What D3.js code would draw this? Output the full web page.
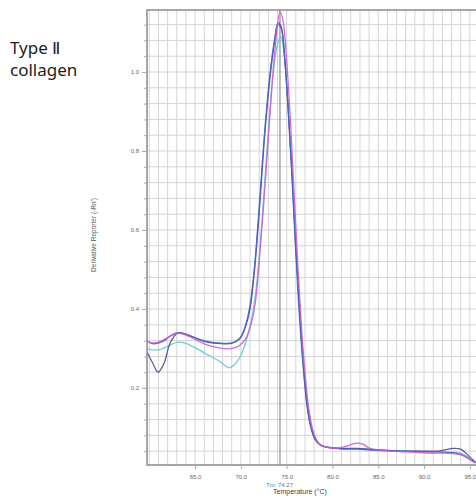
<!DOCTYPE html>
<html>
<head>
<meta charset="utf-8">
<script src="https://cdn.jsdelivr.net/npm/d3@7"></script>
<style>
  body { margin: 0; background: #fff; }
  svg { display: block; }
</style>
</head>
<body>
<script>
// melt curve, type II collagen

var width = 476;
var height = 500;

var xTicks = [65, 70, 75, 80, 85, 90, 95];
var yTicks = [0.2, 0.4, 0.6, 0.8, 1.0];
var tm = 74.27;

// [temperature, derivative]
var darkCurve = [[59.75, 0.291], [60.4, 0.262], [60.95, 0.240], [61.6, 0.262], [62.3, 0.315], [63.1, 0.339],
  [64.0, 0.336], [65.0, 0.327], [66.3, 0.316], [67.5, 0.313], [69.0, 0.313], [69.9, 0.325], [70.5, 0.355],
  [71.0, 0.40], [71.5, 0.50], [72.1, 0.676], [72.6, 0.84], [73.2, 0.99], [73.7, 1.08], [74.05, 1.125],
  [74.4, 1.115], [74.8, 1.03], [75.2, 0.89], [75.6, 0.73], [76.0, 0.55], [76.4, 0.39], [76.8, 0.26],
  [77.2, 0.16], [77.6, 0.105], [78.1, 0.07], [78.7, 0.055], [79.4, 0.050], [80.8, 0.047], [82.7, 0.047],
  [84.1, 0.045], [86.0, 0.042], [88.1, 0.040], [90.0, 0.040], [91.7, 0.041], [93.2, 0.047], [94.0, 0.045],
  [94.8, 0.030], [95.6, 0.012]];

var blueCurve = [[59.75, 0.318], [60.5, 0.312], [61.5, 0.318], [62.3, 0.332], [63.1, 0.340],
  [64.0, 0.336], [65.0, 0.327], [66.3, 0.318], [67.5, 0.314], [69.0, 0.314], [69.9, 0.327], [70.5, 0.358],
  [71.0, 0.41], [71.5, 0.51], [72.1, 0.69], [72.6, 0.85], [73.2, 1.0], [73.7, 1.085], [74.05, 1.12],
  [74.4, 1.11], [74.8, 1.03], [75.2, 0.90], [75.6, 0.74], [76.0, 0.56], [76.4, 0.40], [76.8, 0.27],
  [77.2, 0.17], [77.6, 0.11], [78.1, 0.072], [78.7, 0.056], [79.4, 0.050], [80.8, 0.046], [82.7, 0.045],
  [84.1, 0.043], [86.0, 0.041], [88.1, 0.040], [90.0, 0.039], [91.7, 0.038], [93.2, 0.036], [94.0, 0.032],
  [94.8, 0.022], [95.6, 0.010]];

var magentaCurve = [[59.75, 0.319], [60.4, 0.314], [61.2, 0.318], [62.2, 0.330], [63.1, 0.339],
  [64.0, 0.334], [65.0, 0.323], [66.3, 0.309], [67.5, 0.302], [68.7, 0.299], [69.6, 0.304], [70.2, 0.315],
  [70.7, 0.333], [71.2, 0.37], [71.6, 0.42], [72.0, 0.52], [72.6, 0.70], [73.2, 0.90], [73.7, 1.05],
  [74.27, 1.152], [74.6, 1.13], [75.0, 1.03], [75.4, 0.88], [75.8, 0.70], [76.2, 0.52], [76.6, 0.36],
  [77.0, 0.24], [77.4, 0.15], [77.9, 0.09], [78.5, 0.06], [79.3, 0.050], [80.5, 0.048], [81.5, 0.052],
  [82.5, 0.060], [83.3, 0.058], [84.1, 0.047], [85.5, 0.042], [88.1, 0.038], [90.0, 0.036], [91.7, 0.035],
  [93.2, 0.034], [94.2, 0.030], [95.0, 0.020], [95.6, 0.010]];

var cyanCurve = [[59.75, 0.299], [60.4, 0.296], [61.1, 0.297], [62.2, 0.308], [63.1, 0.316],
  [64.0, 0.313], [65.0, 0.302], [66.3, 0.285], [67.5, 0.270], [68.2, 0.258], [68.7, 0.251], [69.2, 0.257],
  [69.8, 0.274], [70.3, 0.300], [70.7, 0.329], [71.3, 0.39], [71.8, 0.48], [72.3, 0.62], [72.9, 0.82],
  [73.5, 0.99], [74.0, 1.07], [74.35, 1.09], [74.7, 1.05], [75.1, 0.93], [75.5, 0.77], [75.9, 0.58],
  [76.3, 0.41], [76.7, 0.28], [77.1, 0.18], [77.5, 0.115], [78.0, 0.075], [78.6, 0.057], [79.4, 0.050],
  [80.8, 0.047], [82.7, 0.046], [84.1, 0.044], [86.0, 0.042], [88.1, 0.040], [90.0, 0.039], [91.7, 0.038],
  [93.2, 0.037], [94.2, 0.033], [95.0, 0.022], [95.6, 0.011]];

var series = [
  { name: 'cyan', color: '#62c8d4', values: cyanCurve },
  { name: 'dark', color: '#554a8c', values: darkCurve },
  { name: 'blue', color: '#4466cc', values: blueCurve },
  { name: 'magenta', color: '#cc5ccc', values: magentaCurve }
];

var plot = { left: 147, top: 10, right: 476, bottom: 465 };

var x = d3.scaleLinear().domain([59.75, 96]).range([plot.left, 479]);
var y = d3.scaleLinear().domain([0.005, 1.157]).range([plot.bottom, plot.top]);

var svg = d3.select('body').append('svg')
  .attr('width', width)
  .attr('height', height);

// title text on the left
var title = svg.append('text')
  .attr('font-family', 'Noto Sans, sans-serif')
  .attr('font-size', 17)
  .attr('fill', '#222');
title.append('tspan').attr('x', 10).attr('y', 54).text('Type Ⅱ');
title.append('tspan').attr('x', 10).attr('y', 76).text('collagen');

var clip = svg.append('clipPath').attr('id', 'plotclip')
  .append('rect')
  .attr('x', plot.left).attr('y', plot.top)
  .attr('width', plot.right - plot.left + 10).attr('height', plot.bottom - plot.top);

// grid
var grid = svg.append('g').attr('clip-path', 'url(#plotclip)');
var xGrid = d3.range(60, 97, 1);
var yGrid = d3.range(0.04, 1.16, 0.04);

grid.selectAll('.vgrid').data(xGrid).enter().append('line')
  .attr('class', 'vgrid')
  .attr('x1', function(d) { return x(d); })
  .attr('x2', function(d) { return x(d); })
  .attr('y1', plot.top).attr('y2', plot.bottom)
  .attr('stroke', '#d4d4d4').attr('stroke-width', 1);

grid.selectAll('.hgrid').data(yGrid).enter().append('line')
  .attr('class', 'hgrid')
  .attr('y1', function(d) { return y(d); })
  .attr('y2', function(d) { return y(d); })
  .attr('x1', plot.left).attr('x2', plot.right)
  .attr('stroke', '#d4d4d4').attr('stroke-width', 1);

// Tm marker
grid.append('line')
  .attr('x1', x(tm)).attr('x2', x(tm))
  .attr('y1', plot.top).attr('y2', plot.bottom)
  .attr('stroke', '#7a7a7a').attr('stroke-width', 1);

// curves
var line = d3.line()
  .x(function(d) { return x(d[0]); })
  .y(function(d) { return y(d[1]); })
  .curve(d3.curveCatmullRom.alpha(0.5));

grid.selectAll('.curve').data(series).enter().append('path')
  .attr('class', 'curve')
  .attr('d', function(d) { return line(d.values); })
  .attr('fill', 'none')
  .attr('stroke', function(d) { return d.color; })
  .attr('stroke-width', 1.3)
  .attr('opacity', 0.9);

// frame
svg.append('rect')
  .attr('x', plot.left).attr('y', plot.top)
  .attr('width', plot.right - plot.left + 5).attr('height', plot.bottom - plot.top)
  .attr('fill', 'none').attr('stroke', '#8a8a8a').attr('stroke-width', 1.5);

// axes
var yAxis = d3.axisLeft(y)
  .tickValues(yTicks)
  .tickFormat(d3.format('.1f'))
  .tickSize(5);
var gy = svg.append('g').attr('transform', 'translate(' + plot.left + ',0)').call(yAxis);

svg.append('g').attr('transform', 'translate(' + plot.left + ',0)')
  .call(d3.axisLeft(y).tickValues(yGrid).tickSize(3).tickFormat(''))
  .select('.domain').remove();

var xAxis = d3.axisBottom(x)
  .tickValues(xTicks)
  .tickFormat(d3.format('.1f'))
  .tickSize(4);
var gx = svg.append('g').attr('transform', 'translate(0,' + plot.bottom + ')').call(xAxis);

[gx, gy].forEach(function(g) {
  g.select('.domain').remove();
  g.selectAll('text').attr('font-family', 'Liberation Sans, Arial, sans-serif')
    .attr('font-size', 6).attr('fill', '#666');
});
svg.selectAll('.tick line').attr('stroke', '#aaa');
gx.selectAll('text').attr('dy', '1.2em');

svg.append('text')
  .attr('x', x(tm) - 14).attr('y', 487)
  .attr('font-family', 'Liberation Sans, Arial, sans-serif')
  .attr('font-size', 6).attr('fill', '#4a7ab8')
  .text('Tm: ' + tm.toFixed(2));

svg.append('text')
  .attr('x', 300).attr('y', 494)
  .attr('text-anchor', 'middle')
  .attr('font-family', 'Liberation Sans, Arial, sans-serif')
  .attr('font-size', 7).attr('fill', '#444')
  .text('Temperature (°C)');

svg.append('text')
  .attr('transform', 'translate(96,' + 235 + ') rotate(-90)')
  .attr('text-anchor', 'middle')
  .attr('font-family', 'Liberation Sans, Arial, sans-serif')
  .attr('font-size', 6.5).attr('fill', '#555')
  .text("Derivative Reporter (-Rn')");
</script>
</body>
</html>
